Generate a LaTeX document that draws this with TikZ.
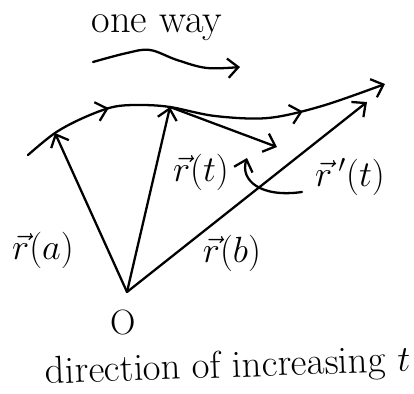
\documentclass[tikz,border=0pt]{standalone}
\usepackage{tikz}
\usetikzlibrary{arrows.meta,positioning,decorations.markings}

\tikzset{
  pen/.style={line width=1.3pt, line cap=round, line join=round},
  vecarrow/.style={pen, -{Straight Barb[length=6pt,width=11pt,line width=1.3pt]}},
  lbl/.style={font=\fontsize{20}{24}\selectfont, inner sep=1pt},
}

\begin{document}
\begin{tikzpicture}[x=0.02cm,y=-0.02cm]
\useasboundingbox (0,0) rectangle (414,394);

% points on the curve
\coordinate (O) at (127,292);
\coordinate (start) at (28,155);
\coordinate (ra) at (55,133);
\coordinate (rt) at (170,107);
\coordinate (rb) at (367,102);
\coordinate (end) at (385,84);
\coordinate (tang) at (277,147);

% the curve, with its direction marks
\draw[vecarrow, postaction=decorate, decoration={markings,
    mark=at position 0.25 with {\arrow{Straight Barb[length=6pt,width=11pt,line width=1.3pt]}},
    mark=at position 0.77 with {\arrow{Straight Barb[length=6pt,width=11pt,line width=1.3pt]}}}]
  plot[smooth, tension=0.55] coordinates {(start) (ra) (83,118) (113,107) (140,105) (rt)
    (215,116) (268,118) (322,106) (end)};

% position vectors
\draw[vecarrow] (O) -- (ra);
\draw[vecarrow] (O) -- (rt);
\draw[vecarrow] (O) -- (rb);
\draw[vecarrow] (rt) -- (tang);

% one way arrow
\node[lbl, font=\fontsize{23}{26}\selectfont] (oneway) at (157,28) {one way};
\coordinate (w0) at (93,62);
\coordinate (w1) at (240,67);
\draw[vecarrow] plot[smooth, tension=0.6] coordinates {(w0) (127,53) (150,50) (177,60) (207,68) (w1)};

% labels
\node[lbl] (lra) at (43,250) {$\vec r(a)$};
\node[lbl] (lrb) at (232,253) {$\vec r(b)$};
\node[lbl] (lrt) at (201,172) {$\vec r(t)$};
\node[lbl] (lrp) at (350,177) {$\vec r\,'(t)$};
\node[lbl] (lO) at (123,323) {O};
\node[font=\fontsize{22}{26}\selectfont, rotate=2] (ldir) at (228,368) {direction of increasing $t$};

% pointer from r'(t) to the tangent vector
\coordinate (ptr) at (302,192);
\coordinate (ptrtip) at (247,158);
\draw[vecarrow] (ptr) .. controls (260,198) and (240,180) .. (ptrtip);
\end{tikzpicture}
\end{document}
